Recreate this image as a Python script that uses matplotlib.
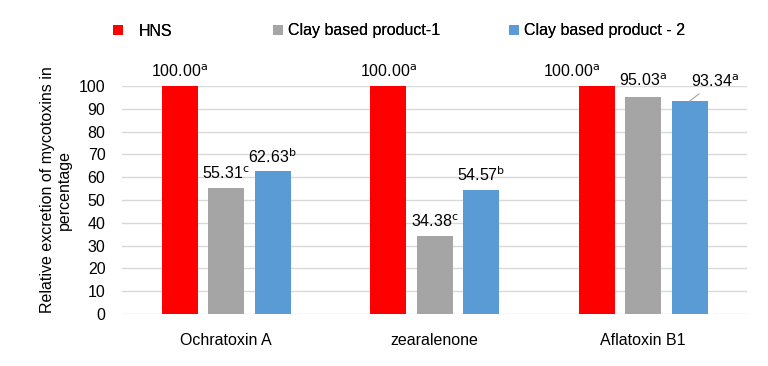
import matplotlib.pyplot as plt
from matplotlib.patches import Patch
import numpy as np

plt.rcParams['font.family'] = ['Liberation Sans', 'DejaVu Sans']

categories = ["Ochratoxin A", "zearalenone", "Aflatoxin B1"]
series_names = ["HNS", "Clay based product-1", "Clay based product - 2"]
hns = [100.00, 100.00, 100.00]
clay1 = [55.31, 34.38, 95.03]
clay2 = [62.63, 54.57, 93.34]
hns_sig = ["a", "a", "a"]
clay1_sig = ["c", "c", "a"]
clay2_sig = ["b", "b", "a"]

colors = ["#ff0000", "#a5a5a5", "#5b9bd5"]

fig = plt.figure(figsize=(7.68, 3.66), dpi=100)
ax = fig.add_axes([0.159, 0.142, 0.814, 0.623])

x = np.arange(len(categories))
w = 0.173
off = 0.223
all_vals = [hns, clay1, clay2]
all_sig = [hns_sig, clay1_sig, clay2_sig]

for i, (vals, name, c) in enumerate(zip(all_vals, series_names, colors)):
    ax.bar(x + (i - 1) * off, vals, w, color=c, label=name, zorder=3)

# value labels with significance letters
for i, (vals, sig) in enumerate(zip(all_vals, all_sig)):
    for j, (v, s) in enumerate(zip(vals, sig)):
        xp = x[j] + (i - 1) * off
        txt = "%.2f$^{\\mathrm{%s}}$" % (v, s)
        if j == 2 and i == 2:
            # last label moved aside with a leader line
            ax.annotate(txt, xy=(xp, v), xytext=(xp + 0.12, 101.8),
                        ha="center", va="center", fontsize=11.5,
                        arrowprops=dict(arrowstyle="-", color="#a5a5a5", lw=0.8,
                                        shrinkA=1, shrinkB=0))
        elif j == 2 and i == 0:
            ax.text(xp - 0.12, v + 2.5, txt, ha="center", va="bottom", fontsize=11.5)
        elif j == 2 and i == 1:
            ax.text(xp, v + 3.5, txt, ha="center", va="bottom", fontsize=11.5)
        else:
            ax.text(xp, v + 2.5, txt, ha="center", va="bottom", fontsize=11.5)

ax.set_ylim(0, 100)
ax.set_xlim(-0.5, 2.5)
ax.set_yticks(np.arange(0, 101, 10))
ax.set_xticks(x)
ax.set_xticklabels(categories)
ax.tick_params(axis="both", length=0, labelsize=11.5)
ax.tick_params(axis="x", pad=14)
ax.tick_params(axis="y", pad=12)
ax.grid(axis="y", color="#d9d9d9", lw=1, zorder=0)
for sp in ax.spines.values():
    sp.set_visible(False)
ax.set_ylabel("Relative excretion of mycotoxins in\npercentage", fontsize=11.5)
ax.yaxis.set_label_coords(-0.08, 0.545)

# legend entries placed one by one, like the spread-out Excel legend
leg_x = [113, 273, 509]
leg_pad = [1.0, 0.35, 0.35]
for name, c, lx, pad in zip(series_names, colors, leg_x, leg_pad):
    lg = fig.legend(handles=[Patch(facecolor=c, edgecolor="none", label=name)],
                    loc="center left", bbox_to_anchor=(lx / 768, 1 - 31 / 366),
                    frameon=False, fontsize=11.5, handlelength=0.6, handleheight=0.6,
                    handletextpad=pad, borderpad=0, borderaxespad=0)
    fig.add_artist(lg)

plt.savefig("out.png", dpi=100)
